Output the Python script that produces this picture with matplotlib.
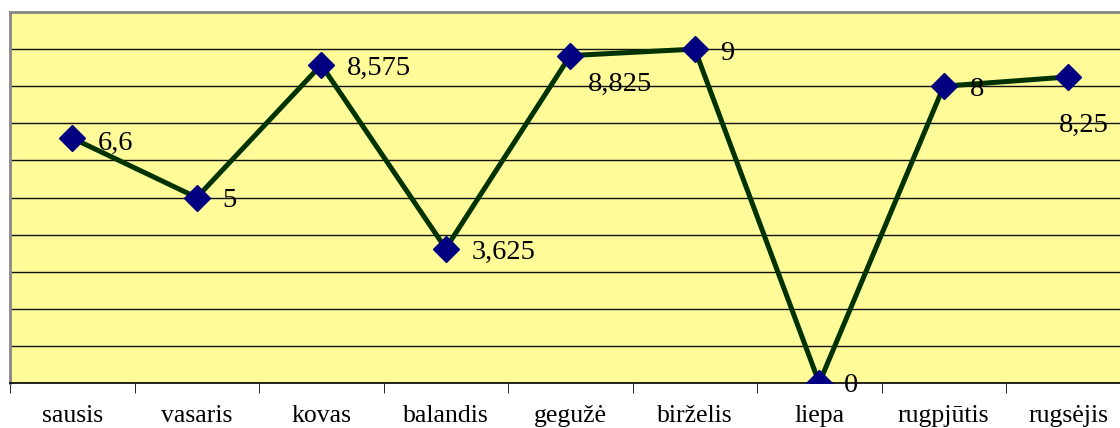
import numpy as np
import matplotlib.pyplot as plt

months = ["sausis", "vasaris", "kovas", "balandis", "gegužė",
          "birželis", "liepa", "rugpjūtis", "rugsėjis"]
values = [6.6, 5, 8.575, 3.625, 8.825, 9, 0, 8, 8.25]
labels = ["6,6", "5", "8,575", "3,625", "8,825", "9", "0", "8", "8,25"]
# label offsets in points (dx, dy) relative to marker
offsets = [(18.5, -4), (18.5, -2.5), (18.5, -2.5), (18.5, -2.5), (13, -20.5),
           (18, -3.5), (18, -1.5), (19, -2.5), (-6.5, -35)]

plt.rcParams['font.family'] = ['Liberation Serif', 'DejaVu Serif']

fig = plt.figure(figsize=(11.2, 4.28), dpi=100)
ax = fig.add_axes([10 / 1120, 45 / 428, 1120.5 / 1120, 371 / 428])
ax.set_facecolor('#FFFB99')

x = np.arange(len(months))
ax.plot(x, values, color='#003300', lw=3.6, zorder=3,
        marker='D', ms=13, mfc='#000080', mec='#000080')

for xi, v, lab, (dx, dy) in zip(x, values, labels, offsets):
    ax.annotate(lab, (xi, v), xytext=(dx, dy), textcoords='offset points',
                ha='left', va='center', fontsize=20.5, color='black', zorder=4,
                annotation_clip=False)

ax.set_xlim(-0.5, 8.5)
ax.set_ylim(0, 10)
ax.set_yticks(np.arange(0, 11, 1))
ax.yaxis.grid(True, color='#111111', lw=1)
ax.set_axisbelow(True)
ax.tick_params(axis='y', left=False, labelleft=False)

ax.set_xticks(x)
ax.set_xticklabels(months, fontsize=18.5)
ax.set_xticks(np.arange(-0.5, 9, 1), minor=True)
ax.tick_params(axis='x', which='major', length=0, pad=16)
ax.tick_params(axis='x', which='minor', length=7, direction='out', color='black')

for s in ['top', 'left', 'right']:
    ax.spines[s].set_color('#888888')
    ax.spines[s].set_linewidth(2)
ax.spines['bottom'].set_color('black')
ax.spines['bottom'].set_linewidth(1.2)

fig.savefig('out.png', dpi=100)
